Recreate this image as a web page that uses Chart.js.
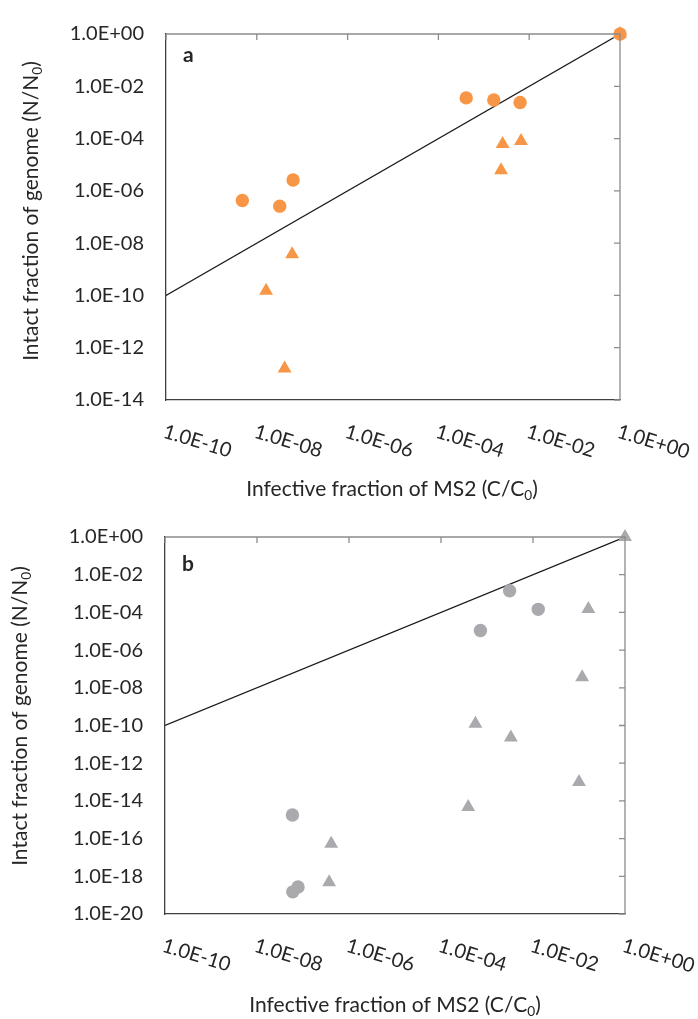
<!DOCTYPE html>
<html>
<head>
<meta charset="utf-8">
<script src="https://cdn.jsdelivr.net/npm/chart.js@4.4.1/dist/chart.umd.min.js"></script>
<style>
  body { margin: 0; background: #fff; }
  .panel { position: relative; width: 698px; }
  #wrapA { height: 500px; }
  #wrapB { height: 519px; }
</style>
</head>
<body>
<div class="panel" id="wrapA"><canvas id="chartA"></canvas></div>
<div class="panel" id="wrapB"><canvas id="chartB"></canvas></div>
<script>
// tick values and labels
const xTicks = [1e-10, 1e-8, 1e-6, 1e-4, 1e-2, 1];
const xTickLabels = ["1.0E-10", "1.0E-08", "1.0E-06", "1.0E-04", "1.0E-02", "1.0E+00"];
const yTicksA = [1, 1e-2, 1e-4, 1e-6, 1e-8, 1e-10, 1e-12, 1e-14];
const yTickLabelsA = ["1.0E+00", "1.0E-02", "1.0E-04", "1.0E-06", "1.0E-08", "1.0E-10", "1.0E-12", "1.0E-14"];
const yTicksB = [1, 1e-2, 1e-4, 1e-6, 1e-8, 1e-10, 1e-12, 1e-14, 1e-16, 1e-18, 1e-20];
const yTickLabelsB = ["1.0E+00", "1.0E-02", "1.0E-04", "1.0E-06", "1.0E-08", "1.0E-10", "1.0E-12", "1.0E-14", "1.0E-16", "1.0E-18", "1.0E-20"];

// 1:1 line
const lineX = [1e-10, 1];
const lineY = [1e-10, 1];

// panel a (orange)
const aCircleX = [4.8e-9, 3.2e-8, 6.3e-8, 4.1e-4, 1.66e-3, 6.3e-3, 1];
const aCircleY = [4.3e-7, 2.6e-7, 2.6e-6, 3.6e-3, 3.0e-3, 2.4e-3, 1];
const aTriX = [6.0e-8, 1.6e-8, 4.1e-8, 2.6e-3, 6.6e-3, 2.4e-3, 1];
const aTriY = [3.8e-9, 1.5e-10, 1.6e-13, 6.2e-5, 8.0e-5, 6.1e-6, 1];

// panel b (grey)
const bCircleX = [3.1e-3, 1.3e-2, 7.2e-4, 5.9e-8, 6.0e-8, 7.8e-8];
const bCircleY = [1.4e-3, 1.45e-4, 1.1e-5, 1.8e-15, 1.5e-19, 2.7e-19];
const bTriX = [0.16, 0.117, 5.6e-4, 3.3e-3, 3.9e-4, 0.10, 4.1e-7, 3.7e-7, 1];
const bTriY = [1.5e-4, 3.6e-8, 1.25e-10, 2.3e-11, 4.7e-15, 1.0e-13, 5.4e-17, 4.9e-19, 1];

const FONT = "Lato, 'Liberation Sans', sans-serif";
const TEXT = "#262626";

function pts(xs, ys) {
  return xs.map((x, i) => ({ x: x, y: ys[i] }));
}

function drawRich(ctx, parts, size) {
  // measure first, then draw centred at origin
  let total = 0;
  parts.forEach(p => {
    ctx.font = (p.sub ? size * 0.65 : size) + "px " + FONT;
    total += ctx.measureText(p.t).width;
  });
  let x = -total / 2;
  parts.forEach(p => {
    ctx.font = (p.sub ? size * 0.65 : size) + "px " + FONT;
    ctx.fillText(p.t, x, p.sub ? size * 0.2 : 0);
    x += ctx.measureText(p.t).width;
  });
}

const yTitle = [{ t: "Intact fraction of genome (N/N" }, { t: "0", sub: true }, { t: ")" }];
const xTitle = [{ t: "Infective fraction of MS2 (C/C" }, { t: "0", sub: true }, { t: ")" }];

const decor = {
  id: "decor",
  afterDraw(chart, args, o) {
    const ctx = chart.ctx;
    const a = chart.chartArea;
    const xs = chart.scales.x, ys = chart.scales.y;
    ctx.save();
    // top and right frame with inward ticks
    ctx.strokeStyle = "#8c8c8c";
    ctx.lineWidth = 1.3;
    ctx.beginPath();
    ctx.moveTo(a.left, a.top); ctx.lineTo(a.right, a.top); ctx.lineTo(a.right, a.bottom);
    xTicks.forEach(v => {
      const px = xs.getPixelForValue(v);
      ctx.moveTo(px, a.top); ctx.lineTo(px, a.top + 6);
    });
    o.yTicks.forEach(v => {
      const py = ys.getPixelForValue(v);
      ctx.moveTo(a.right, py); ctx.lineTo(a.right - 6, py);
    });
    ctx.stroke();

    // rotated x tick labels
    ctx.fillStyle = TEXT;
    ctx.font = "20px " + FONT;
    ctx.textAlign = "left";
    ctx.textBaseline = "middle";
    xTicks.forEach((v, i) => {
      const px = xs.getPixelForValue(v);
      ctx.save();
      ctx.translate(px - 2, a.bottom + 31);
      ctx.rotate(17 * Math.PI / 180);
      ctx.fillText(xTickLabels[i], 0, 0);
      ctx.restore();
    });

    // axis titles
    ctx.textAlign = "left";
    ctx.textBaseline = "alphabetic";
    ctx.save();
    ctx.translate(o.yTitleX, o.yTitleY);
    ctx.rotate(-Math.PI / 2);
    drawRich(ctx, yTitle, 21);
    ctx.restore();
    ctx.save();
    ctx.translate(o.xTitleX, o.xTitleY);
    drawRich(ctx, xTitle, 21);
    ctx.restore();

    // panel letter
    ctx.font = "bold 21px " + FONT;
    ctx.fillText(o.letter, a.left + 17, a.top + o.letterDy);
    ctx.restore();
  }
};

function makeChart(id, cfg) {
  return new Chart(document.getElementById(id), {
    type: "scatter",
    data: {
      datasets: [
        {
          data: pts(cfg.circX, cfg.circY), pointStyle: "circle", pointRadius: 6.7, pointHoverRadius: 6.7,
          backgroundColor: cfg.color, borderWidth: 0, clip: false, order: 1
        },
        {
          data: pts(cfg.triX, cfg.triY), pointStyle: "triangle", pointRadius: 8, pointHoverRadius: 8,
          backgroundColor: cfg.color, borderWidth: 0, clip: false, order: 2
        },
        {
          type: "line", data: pts(lineX, lineY), borderColor: "#1a1a1a", borderWidth: 1.2,
          pointRadius: 0, fill: false, order: 3
        }
      ]
    },
    options: {
      responsive: true,
      maintainAspectRatio: false,
      animation: false,
      events: [],
      layout: { padding: cfg.padding },
      plugins: {
        legend: { display: false },
        tooltip: { enabled: false },
        decor: cfg.decor
      },
      scales: {
        x: {
          type: "logarithmic", position: "bottom", min: 1e-10, max: 1,
          grid: { display: false, drawTicks: false },
          border: { display: true, color: "#404040", width: 1.3 },
          ticks: { display: false },
          afterFit: s => { s.height = cfg.xHeight; }
        },
        y: {
          type: "logarithmic", position: "left", min: cfg.yMin, max: 1,
          grid: { display: false, drawTicks: false },
          border: { display: true, color: "#404040", width: 1.3 },
          afterBuildTicks: s => { s.ticks = cfg.yTicks.map(v => ({ value: v })); },
          ticks: {
            padding: 22, color: TEXT, font: { family: FONT, size: 20 },
            callback: (v, i) => cfg.yLabels[i]
          },
          afterFit: s => { s.width = cfg.yWidth; }
        }
      }
    },
    plugins: [decor]
  });
}

makeChart("chartA", {
  circX: aCircleX, circY: aCircleY, triX: aTriX, triY: aTriY, color: "#F79646",
  yMin: 1e-14, yTicks: yTicksA, yLabels: yTickLabelsA,
  padding: { top: 23, right: 78, left: 0, bottom: 0 }, xHeight: 100, yWidth: 166,
  decor: { yTicks: yTicksA, yTitleX: 38, yTitleY: 211, xTitleX: 392, xTitleY: 496, letter: "a", letterDy: 28 }
});

makeChart("chartB", {
  circX: bCircleX, circY: bCircleY, triX: bTriX, triY: bTriY, color: "#AAAAAE",
  yMin: 1e-20, yTicks: yTicksB, yLabels: yTickLabelsB,
  padding: { top: 37, right: 73, left: 0, bottom: 0 }, xHeight: 105, yWidth: 165,
  decor: { yTicks: yTicksB, yTitleX: 27, yTitleY: 216, xTitleX: 395, xTitleY: 512, letter: "b", letterDy: 34 }
});
</script>
</body>
</html>
